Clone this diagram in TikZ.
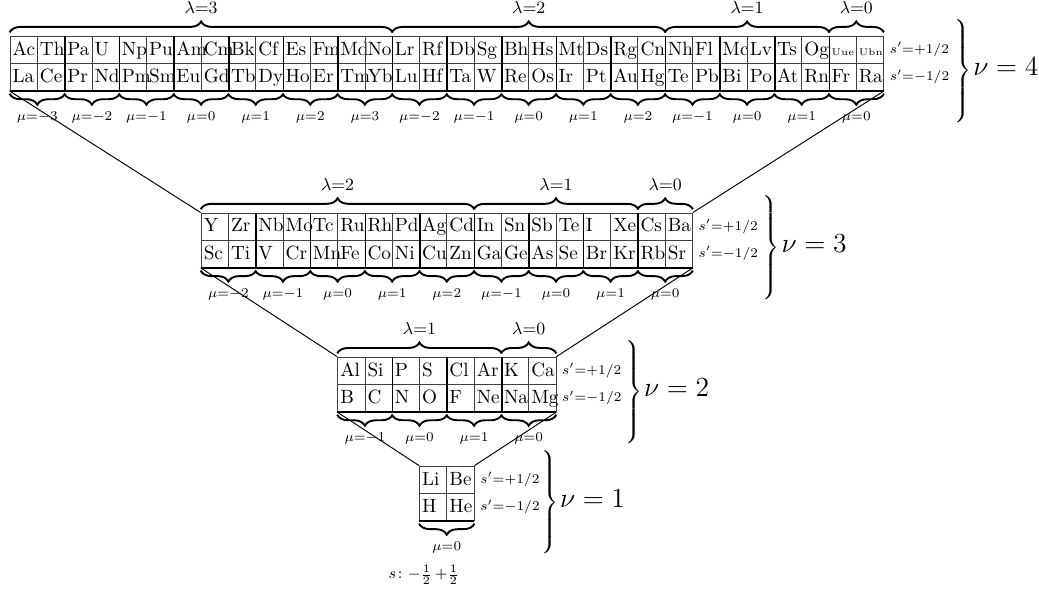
\documentclass[tikz,border=0pt]{standalone}
\usepackage{amsmath}
\usetikzlibrary{positioning,calc,decorations.pathreplacing}
\newcommand{\elt}[1]{\makebox[0.5cm][l]{\hspace{1.4pt}#1}}
\newcommand{\nubr}[1]{$\left.\vcenter{\vbox to 1.9cm{\vfil}}\right\}$\hspace{1pt}{\fontsize{13.5pt}{16pt}\selectfont$\nu=#1$}}
\tikzset{
  cell/.style={draw=black!75, line width=0.4pt, minimum width=0.5cm, minimum height=0.5cm,
    inner sep=0pt, text height=1.55ex, text depth=0.25ex},
  pairline/.style={draw=black, line width=0.8pt},
  lbrace/.style={decorate, decoration={brace, amplitude=0.2cm, raise=0.06cm}, line width=1pt},
  mbrace/.style={decorate, decoration={brace, amplitude=0.2cm, raise=0.05cm}, line width=1pt},
  lamlab/.style={midway, above=0.38cm, inner sep=0pt, font=\small},
  mulab/.style={midway, below=0.37cm, inner sep=0pt, font=\scriptsize},
  slab/.style={inner sep=0pt, font=\scriptsize},
  nubrace/.style={inner sep=0pt, anchor=west},
  link/.style={draw=black, line width=0.5pt}
}
\begin{document}
\begin{tikzpicture}
  \path[use as bounding box] (0,0) rectangle (19.03,-10.84);
  % table corners
  \coordinate (o4) at (0.183,-0.66);
  \coordinate (o3) at (3.683,-3.90);
  \coordinate (o2) at (6.183,-6.54);
  \coordinate (o1) at (7.683,-8.535);

  % nu = 4
  \foreach \e [count=\i] in {Ac,Th,Pa,U,Np,Pu,Am,Cm,Bk,Cf,Es,Fm,Md,No,Lr,Rf,Db,Sg,Bh,Hs,Mt,Ds,Rg,Cn,Nh,Fl,Mc,Lv,Ts,Og,{\tiny Uue},{\tiny Ubn}}
    \node[cell] (t4a-\i) at ($(o4)+({\i*0.5-0.25},-0.25)$) {\elt{\e}};
  \foreach \e [count=\i] in {La,Ce,Pr,Nd,Pm,Sm,Eu,Gd,Tb,Dy,Ho,Er,Tm,Yb,Lu,Hf,Ta,W,Re,Os,Ir,Pt,Au,Hg,Te,Pb,Bi,Po,At,Rn,Fr,Ra}
    \node[cell] (t4b-\i) at ($(o4)+({\i*0.5-0.25},-0.75)$) {\elt{\e}};
  \foreach \i in {2,4,...,30}
    \draw[pairline] (t4a-\i.north east) -- (t4b-\i.south east);
  \draw[pairline] (t4b-1.south west) -- (t4b-32.south east);
  \draw[lbrace] (t4a-1.north west) -- node[lamlab] (l4-3) {$\lambda{=}3$} (t4a-14.north east);
  \draw[lbrace] (t4a-15.north west) -- node[lamlab] (l4-2) {$\lambda{=}2$} (t4a-24.north east);
  \draw[lbrace] (t4a-25.north west) -- node[lamlab] (l4-1) {$\lambda{=}1$} (t4a-30.north east);
  \draw[lbrace] (t4a-31.north west) -- node[lamlab] (l4-0) {$\lambda{=}0$} (t4a-32.north east);
  \foreach \m [count=\k, evaluate=\k as \ka using int(2*\k-1), evaluate=\k as \kb using int(2*\k)] in {-3,-2,-1,0,1,2,3,-2,-1,0,1,2,-1,0,1,0}
    \draw[mbrace] (t4b-\kb.south east) -- node[mulab] (mu4-\k) {$\mu{=}{\m}$} (t4b-\ka.south west);
  \node[slab, right=0.1cm of t4a-32] (s4a) {$s'{=}{+}1/2$};
  \node[slab, right=0.1cm of t4b-32] (s4b) {$s'{=}{-}1/2$};
  \node[nubrace] (nu4) at ($(t4a-32.south east)+(1.24,-0.13)$) {\nubr{4}};

  % nu = 3
  \foreach \e [count=\i] in {Y,Zr,Nb,Mo,Tc,Ru,Rh,Pd,Ag,Cd,In,Sn,Sb,Te,I,Xe,Cs,Ba}
    \node[cell] (t3a-\i) at ($(o3)+({\i*0.5-0.25},-0.25)$) {\elt{\e}};
  \foreach \e [count=\i] in {Sc,Ti,V,Cr,Mn,Fe,Co,Ni,Cu,Zn,Ga,Ge,As,Se,Br,Kr,Rb,Sr}
    \node[cell] (t3b-\i) at ($(o3)+({\i*0.5-0.25},-0.75)$) {\elt{\e}};
  \foreach \i in {2,4,...,16}
    \draw[pairline] (t3a-\i.north east) -- (t3b-\i.south east);
  \draw[pairline] (t3b-1.south west) -- (t3b-18.south east);
  \draw[lbrace] (t3a-1.north west) -- node[lamlab] (l3-2) {$\lambda{=}2$} (t3a-10.north east);
  \draw[lbrace] (t3a-11.north west) -- node[lamlab] (l3-1) {$\lambda{=}1$} (t3a-16.north east);
  \draw[lbrace] (t3a-17.north west) -- node[lamlab] (l3-0) {$\lambda{=}0$} (t3a-18.north east);
  \foreach \m [count=\k, evaluate=\k as \ka using int(2*\k-1), evaluate=\k as \kb using int(2*\k)] in {-2,-1,0,1,2,-1,0,1,0}
    \draw[mbrace] (t3b-\kb.south east) -- node[mulab] (mu3-\k) {$\mu{=}{\m}$} (t3b-\ka.south west);
  \node[slab, right=0.1cm of t3a-18] (s3a) {$s'{=}{+}1/2$};
  \node[slab, right=0.1cm of t3b-18] (s3b) {$s'{=}{-}1/2$};
  \node[nubrace] (nu3) at ($(t3a-18.south east)+(1.23,-0.13)$) {\nubr{3}};

  % nu = 2
  \foreach \e [count=\i] in {Al,Si,P,S,Cl,Ar,K,Ca}
    \node[cell] (t2a-\i) at ($(o2)+({\i*0.5-0.25},-0.25)$) {\elt{\e}};
  \foreach \e [count=\i] in {B,C,N,O,F,Ne,Na,Mg}
    \node[cell] (t2b-\i) at ($(o2)+({\i*0.5-0.25},-0.75)$) {\elt{\e}};
  \foreach \i in {2,4,6}
    \draw[pairline] (t2a-\i.north east) -- (t2b-\i.south east);
  \draw[pairline] (t2b-1.south west) -- (t2b-8.south east);
  \draw[lbrace] (t2a-1.north west) -- node[lamlab] (l2-1) {$\lambda{=}1$} (t2a-6.north east);
  \draw[lbrace] (t2a-7.north west) -- node[lamlab] (l2-0) {$\lambda{=}0$} (t2a-8.north east);
  \foreach \m [count=\k, evaluate=\k as \ka using int(2*\k-1), evaluate=\k as \kb using int(2*\k)] in {-1,0,1,0}
    \draw[mbrace] (t2b-\kb.south east) -- node[mulab] (mu2-\k) {$\mu{=}{\m}$} (t2b-\ka.south west);
  \node[slab, right=0.1cm of t2a-8] (s2a) {$s'{=}{+}1/2$};
  \node[slab, right=0.1cm of t2b-8] (s2b) {$s'{=}{-}1/2$};
  \node[nubrace] (nu2) at ($(t2a-8.south east)+(1.21,-0.13)$) {\nubr{2}};

  % nu = 1
  \node[cell] (t1a-1) at ($(o1)+(0.25,-0.25)$) {\elt{Li}};
  \node[cell] (t1a-2) at ($(o1)+(0.75,-0.25)$) {\elt{Be}};
  \node[cell] (t1b-1) at ($(o1)+(0.25,-0.75)$) {\elt{H}};
  \node[cell] (t1b-2) at ($(o1)+(0.75,-0.75)$) {\elt{He}};
  \draw[pairline] (t1b-1.south west) -- (t1b-2.south east);
  \draw[mbrace] (t1b-2.south east) -- node[mulab] (mu1-1) {$\mu{=}0$} (t1b-1.south west);
  \node[slab, right=0.1cm of t1a-2] (s1a) {$s'{=}{+}1/2$};
  \node[slab, right=0.1cm of t1b-2] (s1b) {$s'{=}{-}1/2$};
  \node[nubrace] (nu1) at ($(t1a-2.south east)+(1.17,-0.16)$) {\nubr{1}};
  \node[slab, font=\footnotesize] (sfoot) at ($(mu1-1)+(-0.42,-0.5)$) {$s\colon{-}\frac{1}{2}\,{+}\frac{1}{2}$};

  % links between tables
  \draw[link] (t4b-1.south west) -- (t3a-1.north west);
  \draw[link] (t4b-32.south east) -- (t3a-18.north east);
  \draw[link] (t3b-1.south west) -- (t2a-1.north west);
  \draw[link] (t3b-18.south east) -- (t2a-8.north east);
  \draw[link] (t2b-1.south west) -- (t1a-1.north west);
  \draw[link] (t2b-8.south east) -- (t1a-2.north east);
\end{tikzpicture}
\end{document}
